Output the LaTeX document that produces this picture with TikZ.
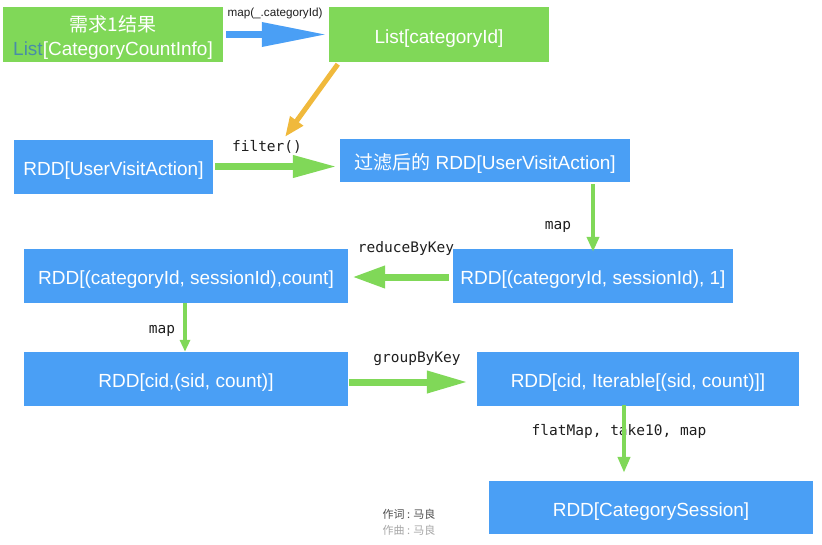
\documentclass[tikz,border=0pt]{standalone}
\usepackage{fontspec}
\setmainfont{Liberation Sans}
\setmonofont{DejaVu Sans Mono}
\newfontfamily\cjk{Noto Sans CJK SC}
\usetikzlibrary{arrows.meta}
\definecolor{boxgreen}{RGB}{128,216,88}
\definecolor{boxblue}{RGB}{74,159,245}
\definecolor{arrorange}{RGB}{240,185,60}
\definecolor{listteal}{RGB}{72,140,168}
\definecolor{lbl}{RGB}{30,30,30}
\tikzset{
  boxbase/.style={rectangle, inner sep=0pt, text=white, font=\fontsize{19}{23}\selectfont,
    text height=17.6pt, text depth=0pt},
  gbox/.style={boxbase, fill=boxgreen},
  bbox/.style={boxbase, fill=boxblue},
  boxtext/.style={inner sep=0pt, text=white, font=\fontsize{19}{23}\selectfont},
  oplabel/.style={inner sep=0pt, text=lbl, font=\ttfamily\fontsize{14.5}{17}\selectfont,
    text height=11pt, text depth=0pt},
  fatarrow/.style={line cap=butt},
  bigh/.style={fatarrow, draw=boxgreen, line width=7pt, -{Triangle[length=#1pt, width=21pt]}},
  smallh/.style={fatarrow, draw=boxgreen, line width=4.5pt, -{Triangle[length=15pt, width=12pt]}},
}
\begin{document}
\begin{tikzpicture}[x=1pt,y=-1pt]
\useasboundingbox (0,0) rectangle (822,544);
% boxes
\node[gbox, minimum width=220pt, minimum height=55pt] (A) at (113,34.5) {};
\node[boxtext, text height=14.4pt, text depth=0pt] (A1) at (113,24.5) {\cjk 需求1结果};
\node[boxtext, text height=13.6pt, text depth=0pt] (A2) at (113,49) {{\color{listteal}List}[CategoryCountInfo]};
\node[gbox, minimum width=220pt, minimum height=55pt] (B) at (439,34.5) {List[categoryId]};
\node[bbox, minimum width=199pt, minimum height=54pt] (C) at (113.5,167) {RDD[UserVisitAction]};
\node[bbox, minimum width=290pt, minimum height=43pt] (D) at (485,160.5) {{\cjk 过滤后的} RDD[UserVisitAction]};
\node[bbox, minimum width=280pt, minimum height=54pt] (E) at (593,276) {RDD[(categoryId, sessionId), 1]};
\node[bbox, minimum width=324pt, minimum height=54pt] (F) at (186,276) {RDD[(categoryId, sessionId),count]};
\node[bbox, minimum width=324pt, minimum height=54pt] (G) at (186,379) {RDD[cid,(sid, count)]};
\node[bbox, minimum width=322pt, minimum height=54pt] (H) at (638,379) {RDD[cid, Iterable[(sid, count)]]};
\node[bbox, minimum width=324pt, minimum height=53pt] (I) at (651,507.5) {RDD[CategorySession]};
% labels
\node[inner sep=0pt, text=lbl, font=\fontsize{11.7}{13}\selectfont] (lmap1) at (275,13) {map(\_.categoryId)};
\node[oplabel] (lfilter) at (267,146) {filter()};
\node[oplabel] (lmap2) at (558,224) {map};
\node[oplabel] (lreduce) at (406,247) {reduceByKey};
\node[oplabel] (lmap3) at (162,328) {map};
\node[oplabel] (lgroup) at (417,357) {groupByKey};
\node[oplabel] (lflat) at (619,430) {flatMap, take10, map};
\node[inner sep=0pt, text=black!70, font=\cjk\fontsize{11}{13}\selectfont] (cred1) at (409,514) {作词 : 马良};
\node[inner sep=0pt, text=black!35, font=\cjk\fontsize{11}{13}\selectfont] (cred2) at (409,530) {作曲 : 马良};
% connectors (xshift/yshift are page directions: positive yshift = up)
\draw[fatarrow, draw=boxblue, line width=6.7pt, -{Triangle[length=65pt, width=23pt]}]
  ([xshift=3pt]A.east) -- ([xshift=-2pt]A.east -| B.west);
\coordinate (otip) at (285,137);
\draw[fatarrow, draw=arrorange, line width=5pt, -{Triangle[length=20pt, width=15pt]}]
  ([xshift=9pt,yshift=-2pt]B.south west) -- (otip);
\draw[bigh=44, line width=7pt] ([xshift=2pt,yshift=0.5pt]C.east) -- ([xshift=-3pt,yshift=0.5pt]C.east -| D.west);
\draw[smallh] ([yshift=-2pt]E.north |- D.south) -- ([yshift=-3pt]E.north);
\draw[bigh=33, line width=7pt] ([xshift=-4pt,yshift=-1pt]E.west) -- ([xshift=4pt,yshift=-1pt]E.west -| F.east);
\draw[smallh, line width=4pt, -{Triangle[length=12pt, width=10pt]}] ([xshift=-1pt]F.south) -- ([xshift=-1pt]G.north);
\draw[bigh=41, line width=7pt] ([xshift=1pt,yshift=-3pt]G.east) -- ([xshift=-9pt,yshift=-3pt]G.east -| H.west);
\coordinate (hbot) at (624,406);
\draw[smallh, line width=4.5pt, -{Triangle[length=16pt, width=12pt]}] ([yshift=1pt]hbot) -- ([yshift=8pt]hbot |- I.north);
\end{tikzpicture}
\end{document}
